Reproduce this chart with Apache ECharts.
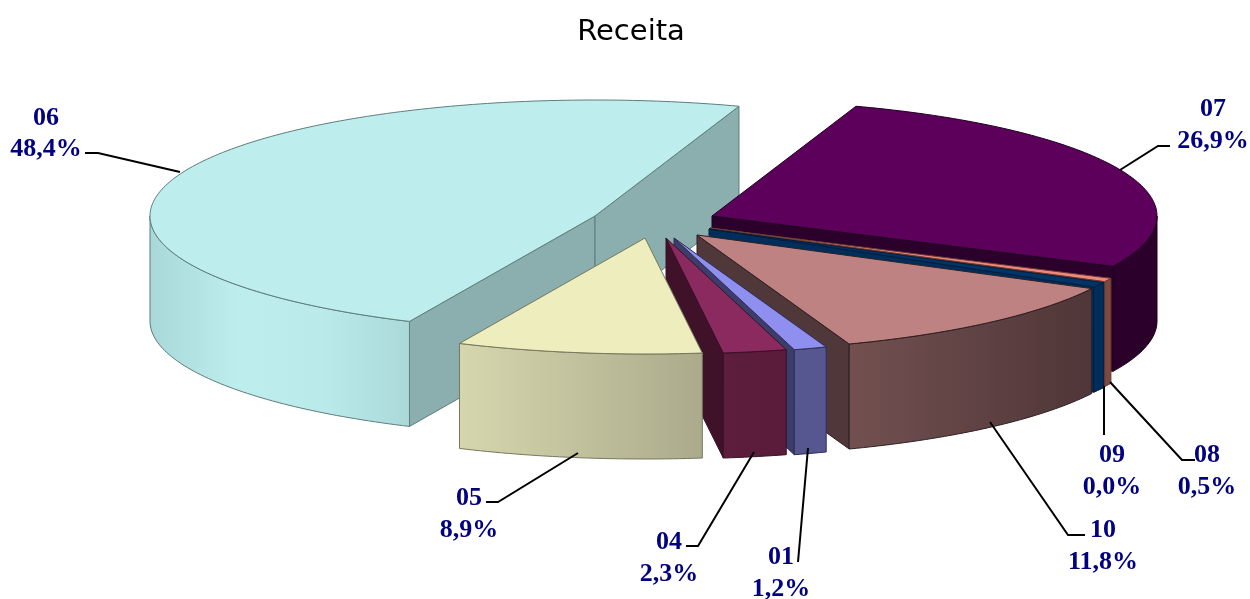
<!DOCTYPE html>
<html><head><meta charset="utf-8">
<style>html,body{margin:0;padding:0;background:#fff}#c{width:1250px;height:599px}</style>
<script src="https://cdn.jsdelivr.net/npm/echarts@6/dist/echarts.min.js"></script>
</head><body><div id="c"></div>
<script>
// data
const categories = ['01','04','05','06','07','08','09','10'];
const shares     = [1.2, 2.3, 8.9, 48.4, 26.9, 0.5, 0.0, 11.8];
// layout of the exploded pie
const cx = 660, cy = 222, rx = 445, ry = 116, depth = 105;
const startAngle = 70, minSweep = 2.6;
const explodeX = [14, 6, -15, -65, 52, 50, 49, 37];
const explodeY = [16, 16, 16, -6, -6, 6, 7, 13];
const drawOrder = [3, 4, 5, 6, 7, 0, 1, 2];
// styles
const topColors  = ['#8F8FEF', '#8B2A5E', '#EDEDBD', '#BDEDED', '#5C005C', '#EE8A7A', '#003366', '#BF8282'];
const cutColors  = ['#3D3D6B', '#3F1229', '#ABAB8C', '#8BAEAE', '#2B002B', '#6E4038', '#002E5C', '#50383A'];
const wallStops  = [
  ['#565690', '#565690'], ['#5C1D3E', '#5A1C3A'], ['#D6D6AE', '#ABAB8C'], ['#A9D8D8', '#BDEDED', '#BAEAEA', '#ABD9D9'],
  ['#2B002B', '#2B002B'], ['#7A4A40', '#7A4A40'], ['#002E5C', '#002E5C'], ['#725050', '#4F3638']
];
const edgeColors = ['#2E2E55', '#3A1028', '#77775E', '#5F7D7D', '#1E001E', '#6E3A30', '#001E3E', '#2E1F20'];
// labels: [centre x, name y, share y]
const labelPos = [[781,557,589],[669,542,574],[469,498,530],[46,118,149],[1213,109,141],[1207,455,487],[1112,455,487],[1103,530,562]];
const leaders = [
  [[808,448],[798,562]],
  [[754,452],[698,546],[686,546]],
  [[578,453],[498,502],[486,502]],
  [[180,172],[98,153],[85,153]],
  [[1120,170],[1158,146],[1170,146]],
  [[1110,382],[1182,460],[1195,460]],
  [[1104,386],[1104,435]],
  [[990,422],[1068,535],[1085,535]]
];

const rad = d => d * Math.PI / 180;
// each slice advances by its share; a slice too thin to see is still drawn at minSweep
const ranges = [];
let cursor = startAngle;
shares.forEach(v => {
  const s = v * 3.6;
  ranges.push([cursor, cursor + Math.max(s, minSweep * (s < 0.5 ? 1 : 0))]);
  cursor += s;
});

function rim(ax, ay, a, dy) { return [ax + rx * Math.cos(rad(a)), ay + ry * Math.sin(rad(a)) + (dy || 0)]; }
function arc(ax, ay, a0, a1, dy) {
  const n = Math.max(2, Math.ceil(Math.abs(a1 - a0))), pts = [];
  for (let i = 0; i <= n; i++) pts.push(rim(ax, ay, a0 + (a1 - a0) * i / n, dy));
  return pts;
}
function renderSlice(params, api) {
  const i = api.value(0);
  const [t1, t2] = ranges[i];
  const ax = cx + explodeX[i], ay = cy + explodeY[i];
  const children = [];
  const stroke = edgeColors[i];
  const poly = (points, fill) => children.push({type:'polygon', shape:{points}, style:{fill, stroke, lineWidth:1}});
  // cut faces turned to the viewer
  if (-Math.cos(rad(t1)) > 0) {
    const p = rim(ax, ay, t1);
    poly([[ax,ay],p,[p[0],p[1]+depth],[ax,ay+depth]], cutColors[i]);
  }
  if (Math.cos(rad(t2)) > 0) {
    const p = rim(ax, ay, t2);
    poly([[ax,ay],p,[p[0],p[1]+depth],[ax,ay+depth]], cutColors[i]);
  }
  // outer wall, front half only
  for (const k of [0, 360]) {
    const a0 = Math.max(t1, k), a1 = Math.min(t2, k + 180);
    if (a1 > a0) {
      const top = arc(ax, ay, a0, a1), bot = arc(ax, ay, a1, a0, depth);
      const xs = top.map(p => p[0]);
      const x0 = Math.min(...xs), x1 = Math.max(...xs);
      const stops = wallStops[i];
      children.push({type:'polygon', shape:{points: top.concat(bot)}, style:{
        fill: new echarts.graphic.LinearGradient(x0, 0, x1, 0, stops.map((c, j) => ({offset: j/(stops.length-1), color: c})), true),
        stroke, lineWidth:1}});
    }
  }
  // top face
  poly([[ax,ay]].concat(arc(ax, ay, t1, t2)), topColors[i]);
  return {type:'group', children};
}
function renderLabel(params, api) {
  const i = api.value(0);
  const [x, y1, y2] = labelPos[i];
  const font = 'bold 26px "Liberation Serif", serif';
  const text = (s, y) => ({type:'text', style:{text:s, x, y, fill:'#000080', font, align:'center', verticalAlign:'middle'}});
  return {type:'group', children:[
    {type:'polyline', shape:{points:leaders[i]}, style:{stroke:'#000', lineWidth:2, fill:null}},
    text(categories[i], y1),
    text(shares[i].toFixed(1).replace('.', ',') + '%', y2)
  ]};
}
const chart = echarts.init(document.getElementById('c'), null, {renderer:'canvas', width:1250, height:599});
chart.setOption({
  animation:false,
  backgroundColor:'#fff',
  title:{text:'Receita', left:626, top:27, textAlign:'center', textVerticalAlign:'middle',
         textStyle:{fontFamily:'"DejaVu Sans", sans-serif', fontSize:29, fontWeight:'normal', color:'#000'}},
  series:[
    {type:'custom', coordinateSystem:'none', silent:true, z:2, renderItem:renderSlice, data:drawOrder.map(i => [i])},
    {type:'custom', coordinateSystem:'none', silent:true, z:3, renderItem:renderLabel, data:categories.map((c, i) => [i])}
  ]
});
</script></body></html>
